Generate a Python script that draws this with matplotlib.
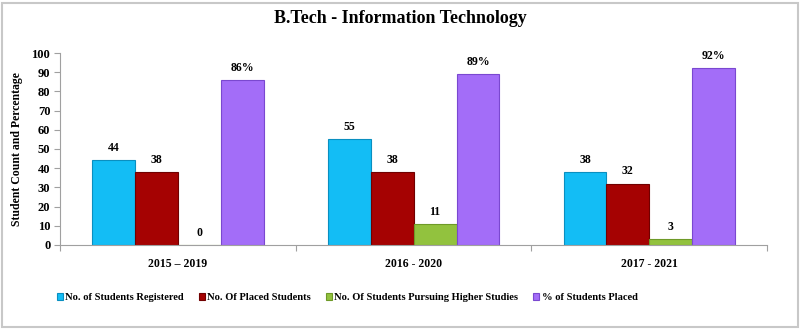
import numpy as np
from matplotlib import pyplot as plt
from matplotlib.patches import Rectangle

batches = ['2015 – 2019', '2016 - 2020', '2017 - 2021']
registered = [44, 55, 38]
placed = [38, 38, 32]
higher_studies = [0, 11, 3]
pct_placed = [86, 89, 92]

series = [
    ('No. of Students Registered', registered, '#13BDF5', '#0A8FC0', ''),
    ('No. Of Placed Students', placed, '#A50202', '#700000', ''),
    ('No. Of Students Pursuing Higher Studies', higher_studies, '#92C23E', '#6E9A28', ''),
    ('% of Students Placed', pct_placed, '#A36DF8', '#7A48D0', '%'),
]

serif = ['Liberation Serif', 'DejaVu Serif']

fig = plt.figure(figsize=(8, 3.3), dpi=100)
ax = fig.add_axes([0.075, 0.258, 0.884, 0.581])

x = np.arange(len(batches))
w = 0.182
for i, (name, vals, col, edge, suffix) in enumerate(series):
    pos = x + (i - 1.5) * w
    bars = ax.bar(pos, vals, w, color=col, edgecolor=edge, linewidth=0.8, label=name)
    for b, v in zip(bars, vals):
        ax.text(b.get_x() + b.get_width() / 2, v + 3.2, f'{v}{suffix}',
                ha='center', va='bottom', fontsize=8.5, fontweight='bold', family=serif)

ax.set_xlim(-0.5, 2.5)
ax.set_ylim(0, 100)
ax.set_yticks(range(0, 101, 10))
ax.set_xticks([-0.5, 0.5, 1.5, 2.5])
ax.set_xticklabels([])
ax.tick_params(axis='x', length=4, color='#A0A0A0', direction='out')
ax.tick_params(axis='y', length=4, color='#A0A0A0', direction='out', pad=3)
for lab in ax.get_yticklabels():
    lab.set_fontweight('bold')
    lab.set_fontsize(9)
    lab.set_family(serif)
for xc, lbl in zip(x, batches):
    ax.text(xc, -10, lbl, ha='center', va='center', fontsize=8.5, fontweight='bold', family=serif)

for s in ['top', 'right']:
    ax.spines[s].set_visible(False)
ax.spines['left'].set_color('#A0A0A0')
ax.spines['bottom'].set_color('#A0A0A0')

ax.set_ylabel('Student Count and Percentage', fontsize=8.5, fontweight='bold', family=serif, labelpad=6)
fig.text(0.5, 0.945, 'B.Tech - Information Technology', ha='center', va='center',
         fontsize=13, fontweight='bold', family=serif)

leg = fig.legend(loc='center', bbox_to_anchor=(0.434, 0.098), ncol=4, frameon=False,
                 handlelength=0.6, handleheight=0.6, handletextpad=0.2, columnspacing=1.4,
                 prop={'family': serif, 'weight': 'bold', 'size': 7.6})

fig.patches.append(Rectangle((0.003, 0.01), 0.994, 0.982, transform=fig.transFigure,
                             fill=False, edgecolor='#C8C8C8', linewidth=1.5))

fig.savefig('out.png', dpi=100)
